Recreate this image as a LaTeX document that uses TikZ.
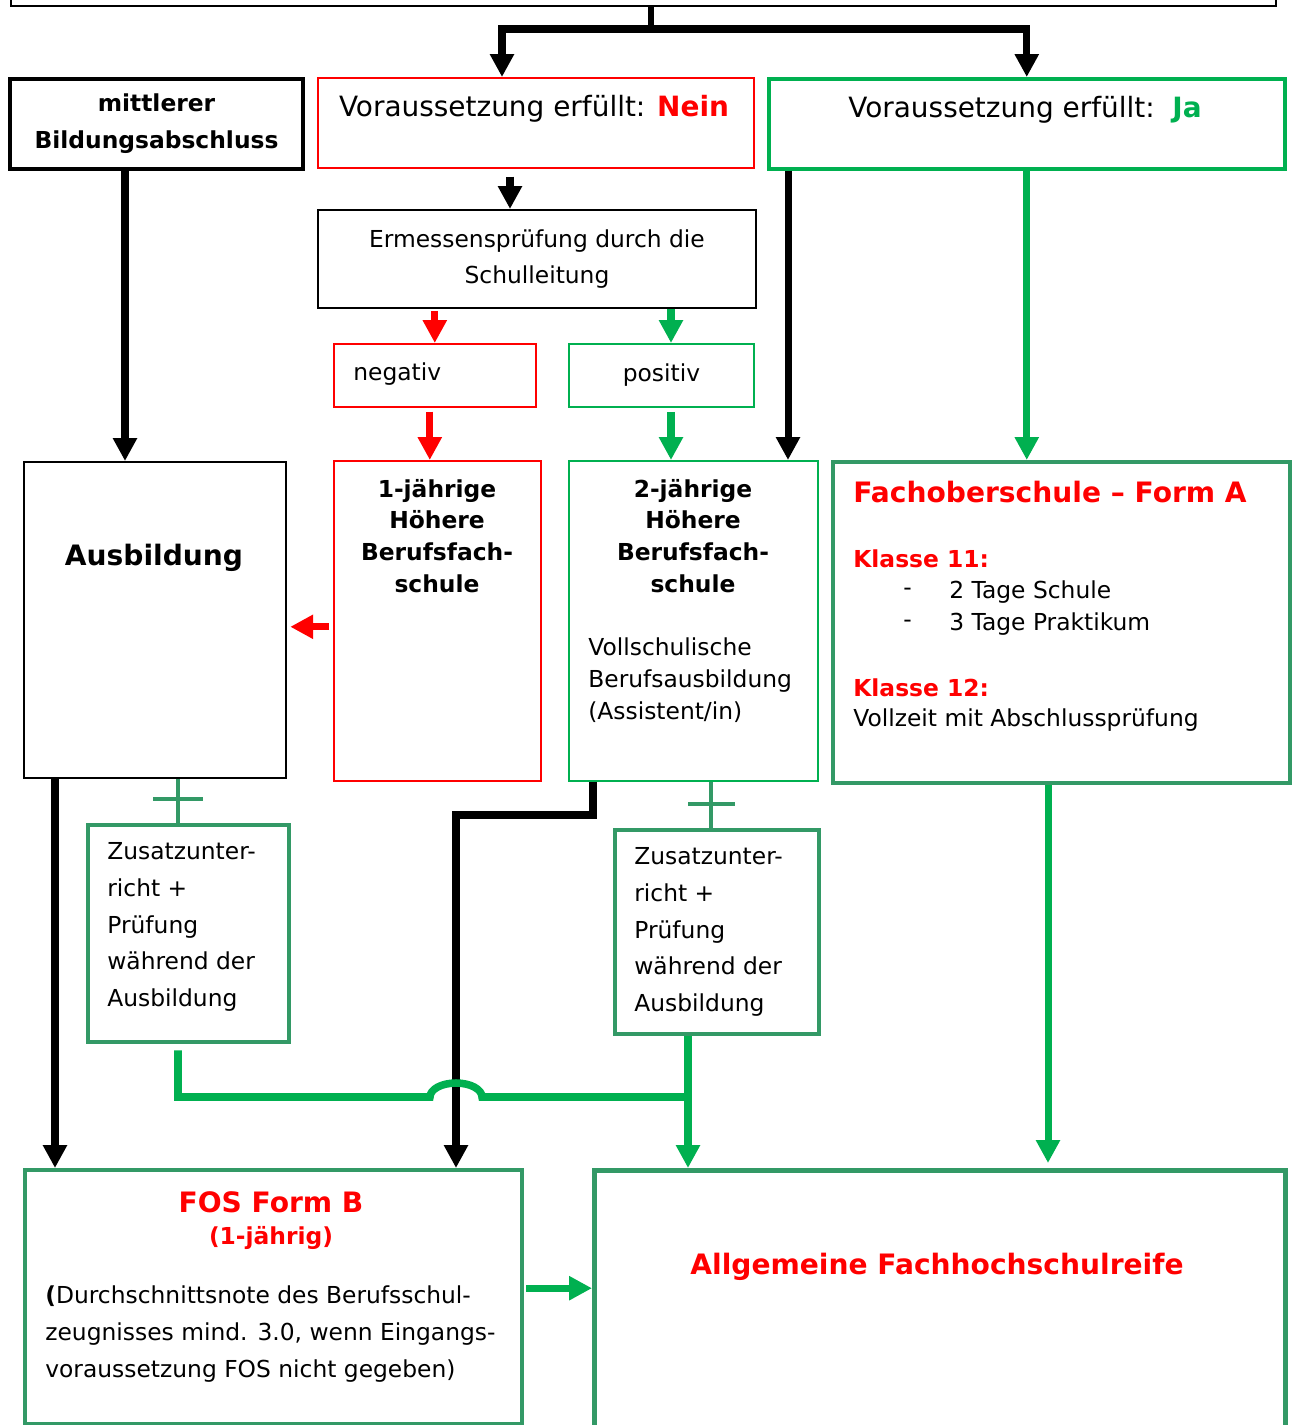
\documentclass[tikz,border=0pt]{standalone}
\usepackage{fontspec}
\setmainfont{DejaVu Sans}
\usetikzlibrary{positioning,arrows.meta,calc}
\definecolor{rot}{HTML}{FF0000}
\definecolor{gruen}{HTML}{00B050}
\definecolor{seegruen}{HTML}{339966}

\begin{document}
\begin{tikzpicture}[
  x=0.02cm, y=-0.02cm,
  box/.style={draw, inner sep=0pt, anchor=north west, align=center},
  sz/.style 2 args={minimum width=#1*0.02cm, minimum height=#2*0.02cm},
  body/.style={font=\fontsize{13.3}{21}\selectfont},
  bodyb/.style={font=\fontsize{13.3}{21}\selectfont\bfseries},
  big/.style={font=\fontsize{16}{21}\selectfont\bfseries},
  txt/.style={inner sep=0pt, align=left, anchor=west},
  arrow/.style={-{Triangle[length=13pt,width=13pt]}, line width=4pt, line join=miter},
  redarrow/.style={arrow, draw=rot},
  greenarrow/.style={arrow, draw=gruen},
  greenline/.style={draw=gruen, line width=4.3pt, line join=miter},
  stem/.style={line width=3.4pt},
  plus/.style={draw=seegruen, line width=2.3pt},
]
\useasboundingbox (0,0) rectangle (1295,1425);

% Kopf
\node[box, sz={1265}{40}, line width=1.1pt] (kopf) at (10,-35) {};

% Voraussetzung
\node[box, sz={293}{90}, line width=2.3pt, bodyb] (mba) at (8,77) {mittlerer\\Bildungsabschluss};
\node[box, sz={436}{90}, draw=rot, line width=0.9pt] (nein) at (317,77) {};
\node[inner sep=0pt, font=\fontsize{15.9}{20}\selectfont] (nein_txt) at (534,109)
  {Voraussetzung erfüllt: \textbf{\textcolor{rot}{Nein}}};
\node[box, sz={516}{90}, draw=gruen, line width=2pt] (ja) at (767,77) {};
\node[inner sep=0pt, font=\fontsize{15.9}{20}\selectfont] (ja_txt) at (1025,110)
  {Voraussetzung erfüllt:\ \ \textbf{\textcolor{gruen}{Ja}}};

% Ermessen
\node[box, sz={438}{98}, line width=1.1pt, font=\fontsize{13.3}{20.4}\selectfont] (erm) at (317,209)
  {Ermessensprüfung durch die\\Schulleitung};
\node[box, sz={202}{63}, draw=rot, line width=0.9pt] (neg) at (333,343) {};
\node[txt, body] (neg_txt) at (353,374) {negativ};
\node[box, sz={185}{63}, draw=gruen, line width=1.1pt, body] (pos) at (568,343) {positiv};

% Bildungsgaenge
\node[box, sz={262}{316}, line width=1.3pt] (aus) at (23,461) {};
\node[inner sep=0pt, big, font=\fontsize{16}{21}\selectfont\bfseries] (aus_txt) at (154,558) {Ausbildung};
\node[box, sz={207}{320}, draw=rot, line width=0.9pt] (hbf1) at (333,460) {};
\node[inner sep=0pt, align=center, font=\fontsize{13.3}{18.1}\selectfont\bfseries] (hbf1_txt) at (437,536)
  {1-jährige\\Höhere\\Berufsfach-\\schule};
\node[box, sz={249}{320}, draw=gruen, line width=1.1pt] (hbf2) at (568,460) {};
\node[inner sep=0pt, align=center, font=\fontsize{13.3}{18.1}\selectfont\bfseries] (hbf2_txt) at (693,536)
  {2-jährige\\Höhere\\Berufsfach-\\schule};
\node[txt, font=\fontsize{13.3}{18.1}\selectfont] (hbf2_info) at (588,680)
  {Vollschulische\\Berufsausbildung\\(Assistent/in)};

% Fachoberschule A
\node[box, sz={457}{321}, draw=seegruen, line width=2.5pt] (foa) at (831,460) {};
\node[txt, big, text=rot] (foa_titel) at (853,492) {Fachoberschule – Form A};
\node[txt, bodyb, text=rot] (kl11) at (853,559) {Klasse 11:};
\node[txt, font=\fontsize{13.3}{18.1}\selectfont] (kl11_dash) at (903,608) {-\\-};
\node[txt, font=\fontsize{13.3}{18.1}\selectfont] (kl11_list) at (949,608) {2 Tage Schule\\3 Tage Praktikum};
\node[txt, bodyb, text=rot] (kl12) at (853,688) {Klasse 12:};
\node[txt, body] (kl12_txt) at (853,720) {Vollzeit mit Abschlussprüfung};

% Zusatzunterricht
\node[box, sz={201}{217}, draw=seegruen, line width=2.5pt] (zus1) at (86,823) {};
\node[txt, body] (zus1_txt) at (107,927)
  {Zusatzunter-\\richt +\\Prüfung\\während der\\Ausbildung};
\node[box, sz={204}{204}, draw=seegruen, line width=2.5pt] (zus2) at (613,828) {};
\node[txt, body] (zus2_txt) at (634,932)
  {Zusatzunter-\\richt +\\Prüfung\\während der\\Ausbildung};

% Abschluss
\node[box, sz={497}{254}, draw=seegruen, line width=2.5pt] (fosb) at (23,1168) {};
\node[inner sep=0pt, big, text=rot] (fosb_titel) at (271,1202) {FOS Form B};
\node[inner sep=0pt, bodyb, text=rot] (fosb_dauer) at (271,1238) {(1-jährig)};
\node[txt, body] (fosb_txt) at (45,1334)
  {\textbf{(}Durchschnittsnote des Berufsschul-\\zeugnisses mind. 3.0, wenn Eingangs-\\voraussetzung FOS nicht gegeben)};
\node[box, sz={691}{300}, draw=seegruen, line width=3pt] (ahr) at (592,1168) {};
\node[inner sep=0pt, big, text=rot] (ahr_txt) at (937,1267) {Allgemeine Fachhochschulreife};

% Flows oben
\coordinate (split) at (651,29);
\draw[stem] (kopf.south -| split) -- (split);
\draw[arrow] (split) -| ($(nein.north west)+(185,0)$);
\draw[arrow] (split) -| (ja.north);
\draw[arrow] ($(mba.south west)+(117,0)$) coordinate (m1) -- (m1 |- aus.north);
\draw[arrow] ($(nein.south west)+(193,8)$) coordinate (n1) -- (n1 |- erm.north);
\draw[redarrow] ($(erm.south -| neg.north)+(0,2)$) -- (neg.north);
\draw[greenarrow] ($(pos.north west)+(103,-34)$) coordinate (p0) -- (p0 |- pos.north);
\draw[redarrow] ($(neg.south)+(-5,4)$) coordinate (n2) -- (n2 |- hbf1.north);
\draw[greenarrow] ($(pos.south west)+(103,4)$) coordinate (p1) -- (p1 |- hbf2.north);
\draw[redarrow, shorten >=1.7pt] ($(hbf1.west)+(-4,6)$) coordinate (h1) -- (h1 -| aus.east);
\draw[arrow] ($(ja.south west)+(21,0)$) coordinate (j1) -- (j1 |- hbf2.north);
\draw[greenarrow] (ja.south) -- (ja.south |- foa.north);

% Flows unten
\draw[arrow] ($(aus.south west)+(32,0)$) coordinate (a1) -- (a1 |- fosb.north);
\coordinate (bend) at (456,815);
\draw[arrow] ($(hbf2.south west)+(25,0)$) |- (bend) -- (bend |- fosb.north);
\draw[plus] ($(zus1.north west)+(92,0)$) coordinate (z0) -- (z0 |- aus.south);
\draw[plus] ($(z0)+(-25,-24)$) -- ++(50,0);
\draw[plus] ($(zus2.north west)+(98,0)$) coordinate (z2) -- (z2 |- hbf2.south);
\draw[plus] ($(z2)+(-23,-24)$) -- ++(47,0);
\coordinate (tie) at (688,1097);
\coordinate (hop) at (bend |- tie);
\draw[greenline] ($(zus1.south west)+(92,6)$) |- ($(hop)+(-26,0)$)
  arc[start angle=180, end angle=360, x radius=26, y radius=14] -- (tie);
\draw[greenarrow] (zus2.south -| tie) -- (tie |- ahr.north);
\draw[greenarrow] ($(fosb.east)+(2,-9)$) coordinate (f1) -- (f1 -| ahr.west);
\draw[greenarrow] ($(foa.south west)+(217,0)$) coordinate (o1) -- ($(o1 |- ahr.north)+(0,-5)$);
\end{tikzpicture}
\end{document}
